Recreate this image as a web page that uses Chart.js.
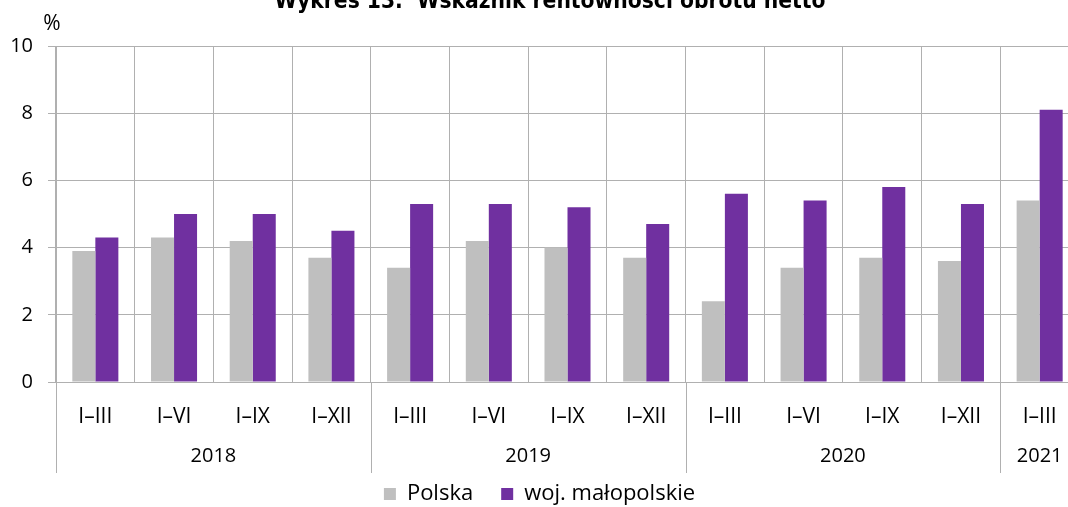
<!DOCTYPE html>
<html>
<head>
<meta charset="utf-8">
<script src="https://cdn.jsdelivr.net/npm/chart.js@4"></script>
<style>
    html, body { margin: 0; padding: 0; background: #fff; overflow: hidden; }
    #box { position: relative; width: 1080px; height: 507px; }
</style>
</head>
<body>
<div id="box"><canvas id="wykres"></canvas></div>
<script>
const okresy = ['I–III', 'I–VI', 'I–IX', 'I–XII', 'I–III', 'I–VI', 'I–IX', 'I–XII', 'I–III', 'I–VI', 'I–IX', 'I–XII', 'I–III'];
const lata = ['2018', '2019', '2020', '2021'];
const kwartalyWRoku = [4, 4, 4, 1];
const polska = [3.9, 4.3, 4.2, 3.7, 3.4, 4.2, 4.0, 3.7, 2.4, 3.4, 3.7, 3.6, 5.4];
const malopolskie = [4.3, 5.0, 5.0, 4.5, 5.3, 5.3, 5.2, 4.7, 5.6, 5.4, 5.8, 5.3, 8.1];
const osY = [0, 2, 4, 6, 8, 10];

const FONT = "'Open Sans', sans-serif";
const SZARY = '#b0b0b0';

// tytul, znak % i druga linia osi X (lata)
const dodatki = {
    id: 'dodatki',
    afterDraw(chart) {
        const c = chart.ctx;
        const x = chart.scales.x;
        const area = chart.chartArea;
        c.save();
        c.fillStyle = '#000';
        c.font = "bold 22.6px 'DejaVu Sans Condensed', sans-serif";
        c.textAlign = 'center';
        c.textBaseline = 'alphabetic';
        c.fillText('Wykres 13.  Wskaźnik rentowności obrotu netto', 550, 8);

        c.font = '21px ' + FONT;
        c.textBaseline = 'middle';
        c.fillText('%', 52, 24);

        c.font = '20px ' + FONT;
        c.strokeStyle = SZARY;
        c.lineWidth = 1;
        const krok = x.getPixelForValue(1) - x.getPixelForValue(0);
        let start = 0;
        lata.forEach((rok, i) => {
            const left = x.getPixelForValue(start) - krok / 2;
            const right = left + kwartalyWRoku[i] * krok;
            c.beginPath();
            c.moveTo(Math.round(left) + 0.5, area.bottom);
            c.lineTo(Math.round(left) + 0.5, area.bottom + 91);
            c.stroke();
            c.fillText(rok, (left + right) / 2, area.bottom + 74);
            start += kwartalyWRoku[i];
        });
        c.restore();
    }
};

new Chart(document.getElementById('wykres'), {
    type: 'bar',
    data: {
        labels: okresy,
        datasets: [
            {
                label: 'Polska',
                data: polska,
                backgroundColor: '#bfbfbf',
                categoryPercentage: 0.585,
                barPercentage: 1
            },
            {
                label: 'woj. małopolskie',
                data: malopolskie,
                backgroundColor: '#7030a0',
                categoryPercentage: 0.585,
                barPercentage: 1
            }
        ]
    },
    options: {
        responsive: true,
        maintainAspectRatio: false,
        animation: false,
        layout: { padding: { top: 46, right: 1, left: 0, bottom: -8 } },
        scales: {
            x: {
                offset: true,
                grid: { offset: true, color: SZARY, drawTicks: false },
                border: { color: SZARY },
                ticks: { color: '#000', padding: 22, font: { family: FONT, size: 21 } },
                afterFit: (s) => { s.height = 73; }
            },
            y: {
                min: 0,
                max: 10,
                afterBuildTicks: (s) => { s.ticks = osY.map(v => ({ value: v })); },
                grid: { color: SZARY, tickLength: 8 },
                border: { color: SZARY },
                ticks: { color: '#000', padding: 15, font: { family: FONT, size: 20 } },
                afterFit: (s) => { s.width = 56; }
            }
        },
        plugins: {
            legend: {
                position: 'bottom',
                labels: {
                    color: '#000',
                    boxWidth: 12,
                    boxHeight: 12,
                    padding: 28,
                    font: { family: FONT, size: 22 }
                }
            },
            tooltip: { enabled: false }
        }
    },
    plugins: [dodatki]
});
</script>
</body>
</html>
